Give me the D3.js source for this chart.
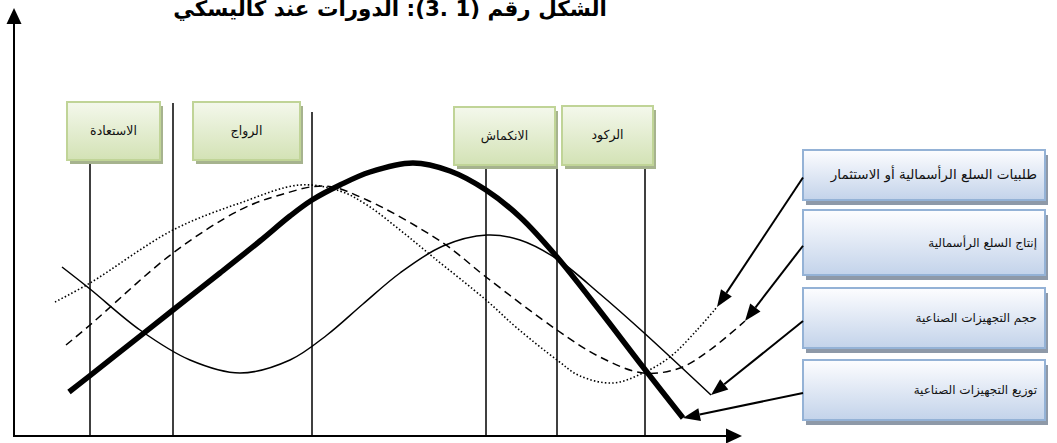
<!DOCTYPE html>
<html>
<head>
<meta charset="utf-8">
<script src="https://cdn.jsdelivr.net/npm/d3@7"></script>
<style>
  body { margin: 0; background: #fff; }
  svg { display: block; }
</style>
</head>
<body>
<svg id="chart" width="1057" height="443"></svg>
<script>
// ---- data ----------------------------------------------------------------
const titleText = "الشكل رقم (1 .3): الدورات عند كاليسكي";

// phase names and the boundaries between phases (time units)
const phaseNames  = ["الاستعادة", "الرواج", "الانكماش", "الركود"];
const phaseBounds = [15.2, 31.8, 59.6, 94.4, 108.6, 126.2];

// series names (legend)
const seriesNames = [
  "طلبيات السلع الرأسمالية أو الاستثمار",
  "إنتاج السلع الرأسمالية",
  "حجم التجهيزات الصناعية",
  "توزيع التجهيزات الصناعية"
];

// orders for capital goods / investment (dotted)
const ordersT = [8.2, 15.2, 31.8, 45.2, 57.2, 65.2, 70.6, 77.2, 83.8, 94.4, 100.6, 108.6, 113.2, 119.8, 125.8, 131.2, 136.6, 140.6];
const ordersV = [33.5, 38.25, 51.5, 58.25, 62.75, 61.25, 57.75, 51.5, 44.75, 34, 27, 19, 15, 13.25, 15.75, 19.75, 26.5, 32.25];

// production of capital goods (dashed)
const productionT = [10.4, 15.2, 31.8, 45.2, 53.2, 62.2, 70.6, 85.8, 94.4, 108.6, 117.2, 125.8, 133.2, 139.2, 146.2];
const productionV = [22.75, 27.75, 45.75, 56.5, 60.25, 62.5, 59, 48.25, 39.75, 26.5, 19.75, 15.75, 17, 21.5, 28.75];

// volume of industrial equipment (thin solid)
const volumeT = [9.6, 15.2, 25.2, 35.2, 45.2, 55.2, 62.6, 69.8, 77.2, 85.8, 94.6, 101.2, 108.6, 117.2, 125.6, 139.4];
const volumeV = [42.25, 36.75, 26.5, 19, 15.75, 19, 25.25, 33, 40.75, 47.5, 50.25, 49, 44.25, 35.5, 26.25, 10.25];

// distribution of industrial equipment (thick solid)
const distributionT = [11, 15.2, 23.8, 31.8, 41.2, 49.2, 55.2, 59.6, 65.2, 71.2, 79.8, 87.2, 94.4, 101.2, 108.6, 117.2, 125.8, 133.8];
const distributionV = [11, 15.1, 23.6, 31.5, 40.75, 48.75, 55, 59, 62.75, 66, 68.25, 66.25, 61.5, 54.75, 44.75, 31.25, 17.25, 4.5];

// ---- layout --------------------------------------------------------------
const svg = d3.select("#chart");
const x = d3.scaleLinear().domain([0, 145.6]).range([14, 742]);
const y = d3.scaleLinear().domain([0, 105]).range([436, 16]);

const FONT = "'DejaVu Sans', sans-serif";

function fitWidth(sel, w) {
  const cur = sel.node().getComputedTextLength();
  const fs = parseFloat(sel.attr("font-size"));
  if (cur > 0) sel.attr("font-size", (fs * w / cur).toFixed(2));
}

const defs = svg.append("defs");
const gGreen = defs.append("linearGradient").attr("id", "gGreen")
  .attr("x1", 0).attr("y1", 0).attr("x2", 0).attr("y2", 1);
gGreen.append("stop").attr("offset", "0%").attr("stop-color", "#f4f8ec");
gGreen.append("stop").attr("offset", "100%").attr("stop-color", "#d3e2b5");
const gBlue = defs.append("linearGradient").attr("id", "gBlue")
  .attr("x1", 0).attr("y1", 0).attr("x2", 0).attr("y2", 1);
gBlue.append("stop").attr("offset", "0%").attr("stop-color", "#fdfdff");
gBlue.append("stop").attr("offset", "100%").attr("stop-color", "#c3d3ea");

// ---- title ---------------------------------------------------------------
const title = svg.append("text")
  .attr("x", 390).attr("y", 16)
  .attr("text-anchor", "middle")
  .attr("direction", "rtl")
  .attr("font-family", FONT)
  .attr("font-weight", "bold")
  .attr("font-size", 20)
  .attr("fill", "#000")
  .text(titleText);
fitWidth(title, 434);

// ---- phase boundary lines ------------------------------------------------
const lineTops = [120, 103, 112, 120, 112, 120];
svg.append("g").selectAll("line")
  .data(phaseBounds)
  .join("line")
  .attr("x1", d => x(d)).attr("x2", d => x(d))
  .attr("y1", (d, i) => lineTops[i]).attr("y2", y(0))
  .attr("stroke", "#000").attr("stroke-width", 1.5);

// ---- phase label boxes ---------------------------------------------------
const phaseBoxes = [
  { x0: 10.6, x1: 29.2, top: 102, h: 58 },
  { x0: 35.8, x1: 57.2, top: 102, h: 58 },
  { x0: 88.0, x1: 108.2, top: 107, h: 58 },
  { x0: 109.6, x1: 127.8, top: 106, h: 59 }
];
const phaseG = svg.append("g").selectAll("g")
  .data(phaseNames)
  .join("g");
phaseG.append("rect")
  .attr("x", (d, i) => x(phaseBoxes[i].x0) + 3)
  .attr("y", (d, i) => phaseBoxes[i].top + 4)
  .attr("width", (d, i) => x(phaseBoxes[i].x1) - x(phaseBoxes[i].x0))
  .attr("height", (d, i) => phaseBoxes[i].h)
  .attr("fill", "#a6b38e");
phaseG.append("rect")
  .attr("x", (d, i) => x(phaseBoxes[i].x0))
  .attr("y", (d, i) => phaseBoxes[i].top)
  .attr("width", (d, i) => x(phaseBoxes[i].x1) - x(phaseBoxes[i].x0))
  .attr("height", (d, i) => phaseBoxes[i].h)
  .attr("fill", "url(#gGreen)")
  .attr("stroke", "#c0d497").attr("stroke-width", 2);
phaseG.append("text")
  .attr("x", (d, i) => (x(phaseBoxes[i].x0) + x(phaseBoxes[i].x1)) / 2)
  .attr("y", (d, i) => phaseBoxes[i].top + 33)
  .attr("text-anchor", "middle")
  .attr("direction", "rtl")
  .attr("font-family", FONT)
  .attr("font-size", 12.5)
  .attr("fill", "#111")
  .text(d => d);

// ---- curves --------------------------------------------------------------
const line = d3.line()
  .x(d => x(d[0])).y(d => y(d[1]))
  .curve(d3.curveCatmullRom.alpha(0.5));

const series = [
  { pts: d3.zip(ordersT, ordersV),             width: 1.6, dash: "1.5,2.2" },
  { pts: d3.zip(productionT, productionV),     width: 1.5, dash: "8,5" },
  { pts: d3.zip(volumeT, volumeV),             width: 1.5, dash: null },
  { pts: d3.zip(distributionT, distributionV), width: 5.5, dash: null }
];

svg.append("g").selectAll("path")
  .data(series)
  .join("path")
  .attr("d", d => line(d.pts))
  .attr("fill", "none")
  .attr("stroke", "#000")
  .attr("stroke-width", d => d.width)
  .attr("stroke-dasharray", d => d.dash);

// ---- axes ----------------------------------------------------------------
const axes = svg.append("g");
const x0 = x(0), yb = y(0), xEnd = x.range()[1], yTop = 8;
axes.append("line").attr("x1", x0).attr("x2", x0).attr("y1", yb + 1).attr("y2", yTop + 14)
  .attr("stroke", "#000").attr("stroke-width", 2);
axes.append("path")
  .attr("d", `M${x0},${yTop} L${x0 - 7.5},${yTop + 16} L${x0 + 7.5},${yTop + 16} Z`)
  .attr("fill", "#000");
axes.append("line").attr("x1", x0 - 1).attr("x2", xEnd - 14).attr("y1", yb).attr("y2", yb)
  .attr("stroke", "#000").attr("stroke-width", 2);
axes.append("path")
  .attr("d", `M${xEnd},${yb} L${xEnd - 16},${yb - 7.5} L${xEnd - 16},${yb + 7.5} Z`)
  .attr("fill", "#000");

// ---- legend boxes and pointer arrows -------------------------------------
const legendBoxes = [
  { top: 150, h: 50 },
  { top: 210, h: 65 },
  { top: 288, h: 60 },
  { top: 360, h: 60 }
];
const legendLeft = 803, legendRight = 1045;
const legendTextRight = 1037;
const legendFont = [13.5, 12, 12, 12];

const legG = svg.append("g").selectAll("g")
  .data(seriesNames)
  .join("g");
legG.append("rect")
  .attr("x", legendLeft + 3)
  .attr("y", (d, i) => legendBoxes[i].top + 5)
  .attr("width", legendRight - legendLeft)
  .attr("height", (d, i) => legendBoxes[i].h)
  .attr("fill", "#8e99a8");
legG.append("rect")
  .attr("x", legendLeft)
  .attr("y", (d, i) => legendBoxes[i].top)
  .attr("width", legendRight - legendLeft)
  .attr("height", (d, i) => legendBoxes[i].h)
  .attr("fill", "url(#gBlue)")
  .attr("stroke", "#94b2d6").attr("stroke-width", 2);
legG.append("text")
  .attr("y", (d, i) => legendBoxes[i].top + legendBoxes[i].h / 2 + 4)
  .attr("text-anchor", "middle")
  .attr("direction", "rtl")
  .attr("font-family", FONT)
  .attr("font-size", (d, i) => legendFont[i])
  .attr("fill", "#111")
  .text(d => d)
  .each(function () {
    const t = d3.select(this);
    const w = this.getComputedTextLength();
    t.attr("x", legendTextRight - w / 2);
  });

// arrows from each legend box to the end of its curve
const arrowG = svg.append("g");
series.forEach((s, i) => {
  const last = s.pts[s.pts.length - 1];
  const tx = x(last[0]), ty = y(last[1]);
  const sx = legendLeft, sy = legendBoxes[i].top + legendBoxes[i].h * 0.55;
  const ang = Math.atan2(ty - sy, tx - sx);
  const hl = 17, hw = 6.5;
  const bx = tx - hl * Math.cos(ang), by = ty - hl * Math.sin(ang);
  arrowG.append("line")
    .attr("x1", sx).attr("y1", sy).attr("x2", bx).attr("y2", by)
    .attr("stroke", "#000").attr("stroke-width", 2);
  const px = -Math.sin(ang) * hw, py = Math.cos(ang) * hw;
  arrowG.append("path")
    .attr("d", `M${tx},${ty} L${bx + px},${by + py} L${bx - px},${by - py} Z`)
    .attr("fill", "#000");
});
</script>
</body>
</html>
